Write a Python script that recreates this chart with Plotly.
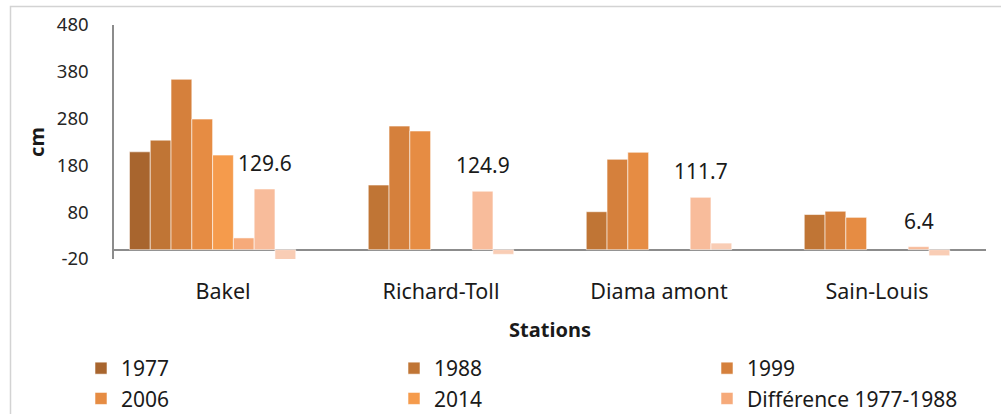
import plotly.graph_objects as go

stations = ["Bakel", "Richard-Toll", "Diama amont", "Sain-Louis"]
series_names = ["1977", "1988", "1999", "2006", "2014",
                "Différence 1977-1988", "Différence 1988-1999",
                "Différence 1999-2006", "Différence 2006-2014"]
v1977 = [209, None, None, None]
v1988 = [234, 138, 81, 75]
v1999 = [364, 264, 193, 82]
v2006 = [279, 253.5, 208, 69]
v2014 = [202, None, None, None]
d1977_1988 = [25, None, None, None]
d1988_1999 = [129.6, 124.9, 111.7, 6.4]
d1999_2006 = [-27, -10, 14, -13]
d2006_2014 = [None, None, None, None]
y_ticks = [-20, 80, 180, 280, 380, 480]

all_values = [v1977, v1988, v1999, v2006, v2014,
              d1977_1988, d1988_1999, d1999_2006, d2006_2014]
colors = ["#A8652E", "#C07535", "#D5803C", "#E68C43", "#F59B4C",
          "#F6AA7A", "#F8BC9B", "#F9CDB5", "#FBDDCC"]
labelled_index = 6

W, H = 1001, 414
ML, MR, MT, MB = 114, 15, 25, 155
BARGAP = 0.142
FONT = "Noto Sans"

fig = go.Figure()
for i, (name, vals, col) in enumerate(zip(series_names, all_values, colors)):
    fig.add_trace(go.Bar(
        x=stations, y=vals, name=name,
        marker=dict(color=col, line=dict(color="rgba(255,255,255,0.55)", width=1)),
        showlegend=(i < 6),
    ))

# data labels above the "Différence 1988-1999" bars
plot_w = W - ML - MR
plot_h = H - MT - MB
cat_w = plot_w / len(stations)
bar_w = cat_w * (1 - BARGAP) / len(series_names)
xshift = (labelled_index - (len(series_names) - 1) / 2) * bar_w
for st, v in zip(stations, d1988_1999):
    fig.add_annotation(x=st, y=v, xref="x", yref="y", text=f"{v:g}",
                       showarrow=False, xshift=xshift, yshift=10,
                       yanchor="bottom",
                       font=dict(family=FONT, size=21, color="#1a1a1a"))

# outer chart frame
fig.add_shape(type="rect", xref="paper", yref="paper",
              x0=(10.5 - ML) / plot_w, x1=1.2,
              y0=-2, y1=1 + (MT - 6.5) / plot_h,
              line=dict(color="#D3D3D3", width=1.5), fillcolor="rgba(0,0,0,0)",
              layer="above")

fig.update_layout(
    width=W, height=H,
    margin=dict(l=ML, r=MR, t=MT, b=MB, autoexpand=False),
    paper_bgcolor="white", plot_bgcolor="white",
    barmode="group", bargap=BARGAP, bargroupgap=0,
    font=dict(family=FONT, color="#1a1a1a"),
    legend=dict(orientation="h", x=(81 - ML) / plot_w, xanchor="left",
                y=-(348 - (MT + plot_h)) / plot_h, yanchor="top",
                font=dict(family=FONT, size=21, color="#1a1a1a"),
                entrywidth=268, entrywidthmode="pixels",
                bgcolor="rgba(0,0,0,0)", tracegroupgap=0),
    xaxis=dict(showline=False, showgrid=False, zeroline=False, automargin=False,
               ticks="", ticklabelstandoff=17,
               tickfont=dict(family=FONT, size=21.5, color="#1a1a1a"),
               title=dict(text="<b>Stations</b>", standoff=19,
                          font=dict(family=FONT, size=20, color="#1a1a1a"))),
    yaxis=dict(range=[-20, 480], tickvals=y_ticks, ticktext=[str(t) for t in y_ticks],
               showgrid=False, showline=True, linecolor="#8C8C8C", linewidth=1.5,
               zeroline=True, zerolinecolor="#8C8C8C", zerolinewidth=2,
               automargin=False,
               ticks="", ticklabelstandoff=20,
               tickfont=dict(family=FONT, size=18.5, color="#262626"),
               title=dict(text="<b>cm</b>", standoff=7,
                          font=dict(family=FONT, size=20, color="#1a1a1a"))),
)

fig.write_html("out.html",
               config={"displayModeBar": False},
               post_script="document.body.style.margin='0';document.body.style.overflow='hidden';")
